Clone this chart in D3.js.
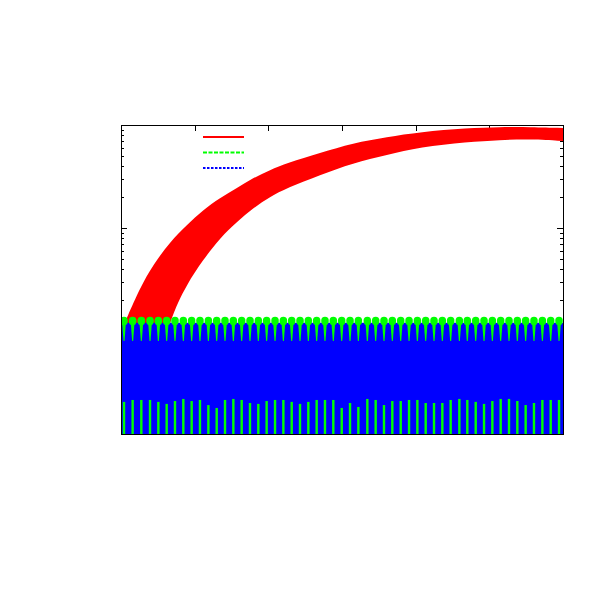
<!DOCTYPE html>
<html>
<head>
<meta charset="utf-8">
<script src="https://cdn.jsdelivr.net/npm/d3@7"></script>
<style>
	body { margin: 0; background: #fff; }
	svg { display: block; }
</style>
</head>
<body>
<div id="chart"></div>
<script>
// x axis ticks (no labels were printed in the original)
var xTicks = [0, 100, 200, 300, 400, 500, 600];

// red series: dense oscillation, kept as its upper / lower envelope
var redX    = [0, 8.1, 25.8, 43.4, 66.5, 89.6, 111.3, 134.4, 157.5, 179.2, 202.3, 225.3, 270.1, 314.9, 361.1, 405.9, 469.7, 514.5, 555.2, 600];
var redHigh = [0.102, 0.134, 0.262, 0.437, 0.731, 1.069, 1.496, 1.956, 2.445, 3.058, 3.657, 4.277, 5.349, 6.688, 7.647, 8.551, 9.352, 9.563, 9.563, 9.352];
var redLow  = [0.01, 0.01, 0.01, 0.03, 0.134, 0.286, 0.489, 0.800, 1.144, 1.564, 2.000, 2.445, 3.271, 4.277, 5.113, 6.115, 6.839, 7.152, 7.314, 6.993];

// blue series: fills from the bottom to its top envelope
var blueX    = [0, 600];
var blueHigh = [0.12, 0.12];

// green series: peaks visible above the blue, and spikes at the bottom
var greenX = [4.1, 15.8, 27.6, 39.4, 50.7, 62.0, 73.3, 84.6, 95.9, 107.2, 118.6, 129.9, 141.2, 152.5, 163.8, 175.1, 186.4, 197.7,
	209.1, 220.4, 231.7, 243.0, 254.3, 265.6, 276.9, 288.2, 299.6, 310.9, 322.2, 334.4, 345.7, 357.0, 368.3, 379.7, 391.0, 402.3,
	413.6, 424.9, 436.2, 447.5, 459.3, 470.1, 481.5, 492.8, 504.1, 515.4, 526.7, 538.0, 549.3, 560.6, 572.0, 583.3, 594.6];
var greenPeak = 0.125;
var greenDip = 0.08;
var greenSpike = [0.0205, 0.0214, 0.0214, 0.0214, 0.0205, 0.0196, 0.0209, 0.0219, 0.0209, 0.0214, 0.0191, 0.0179, 0.0214, 0.0219,
	0.0214, 0.0200, 0.0196, 0.0209, 0.0214, 0.0214, 0.0205, 0.0196, 0.0205, 0.0214, 0.0214, 0.0214, 0.0179, 0.0200, 0.0183, 0.0219,
	0.0214, 0.0191, 0.0209, 0.0209, 0.0214, 0.0214, 0.0200, 0.0200, 0.0200, 0.0214, 0.0219, 0.0214, 0.0205, 0.0196, 0.0209, 0.0219,
	0.0219, 0.0209, 0.0191, 0.0200, 0.0214, 0.0214, 0.0214];

var yDomain = [0.01, 10];

var width = 591, height = 591;
var margin = {top: 125, right: 28, bottom: 157, left: 121};
var plotW = width - margin.left - margin.right;
var plotH = height - margin.top - margin.bottom;

var svg = d3.select("#chart").append("svg")
	.attr("width", width)
	.attr("height", height);

var x = d3.scaleLinear().domain([0, 600]).range([0, plotW]);
var y = d3.scaleLog().domain(yDomain).range([plotH, 0]);

var g = svg.append("g")
	.attr("transform", "translate(" + margin.left + "," + margin.top + ")");

g.append("clipPath").attr("id", "clip")
	.append("rect").attr("width", plotW).attr("height", plotH);

// ticks sit behind the data, as in the original
var yMajor = y.ticks().filter(function(d) { return Math.abs(Math.log10(d) % 1) < 1e-6; });
var yMinor = y.ticks().filter(function(d) { return yMajor.indexOf(d) < 0; });

var ticks = g.append("g").attr("stroke", "#000").attr("stroke-width", 1).attr("shape-rendering", "crispEdges");

xTicks.forEach(function(t) {
	var px = Math.round(x(t)) + 0.5;
	ticks.append("line").attr("x1", px).attr("x2", px).attr("y1", 0).attr("y2", 6);
	ticks.append("line").attr("x1", px).attr("x2", px).attr("y1", plotH).attr("y2", plotH - 6);
});

function yTick(v, len) {
	var py = Math.round(y(v)) + 0.5;
	ticks.append("line").attr("x1", 0).attr("x2", len).attr("y1", py).attr("y2", py);
	ticks.append("line").attr("x1", plotW).attr("x2", plotW - len).attr("y1", py).attr("y2", py);
}
yMajor.forEach(function(v) { yTick(v, 6); });
yMinor.forEach(function(v) { yTick(v, 3); });

var data = g.append("g").attr("clip-path", "url(#clip)");

var redData = redX.map(function(d, i) { return {x: d, hi: redHigh[i], lo: redLow[i]}; });

var redArea = d3.area()
	.curve(d3.curveBasis)
	.x(function(d) { return x(d.x); })
	.y0(function(d) { return y(d.lo); })
	.y1(function(d) { return y(d.hi); });

data.append("path")
	.datum(redData)
	.attr("d", redArea)
	.style("fill", "#ff0000");

var blueData = blueX.map(function(d, i) { return {x: d, hi: blueHigh[i]}; });

var blueArea = d3.area()
	.x(function(d) { return x(d.x); })
	.y0(plotH)
	.y1(function(d) { return y(d.hi); });

data.append("path")
	.datum(blueData)
	.attr("d", blueArea)
	.style("fill", "#0000ff");

// green peaks poking above the blue, with short streaks hanging below them
var greenData = greenX.map(function(d, i) { return {x: d, spike: greenSpike[i]}; });

data.selectAll(".dip")
	.data(greenData)
	.enter().append("path")
	.attr("class", "dip")
	.attr("d", function(d) {
		var cx = x(d.x), top = y(greenPeak), bot = y(greenDip);
		return "M" + (cx - 2) + "," + top + "L" + (cx + 2) + "," + top + "L" + (cx + 0.5) + "," + bot + "L" + (cx - 0.5) + "," + bot + "Z";
	})
	.style("fill", "#00ff00");

data.selectAll(".peak")
	.data(greenData)
	.enter().append("ellipse")
	.attr("class", "peak")
	.attr("cx", function(d) { return x(d.x); })
	.attr("cy", function(d) { return y(greenPeak); })
	.attr("rx", 3.8)
	.attr("ry", 4.2)
	.style("fill", "#00ff00");

data.selectAll(".spike")
	.data(greenData)
	.enter().append("rect")
	.attr("class", "spike")
	.attr("x", function(d) { return x(d.x) - 1.2; })
	.attr("y", function(d) { return y(d.spike); })
	.attr("width", 2.4)
	.attr("height", function(d) { return plotH - y(d.spike); })
	.style("fill", "#00ff00");

// frame
g.append("rect")
	.attr("x", 0.5).attr("y", 0.5)
	.attr("width", plotW).attr("height", plotH)
	.attr("shape-rendering", "crispEdges")
	.style("fill", "none")
	.style("stroke", "#000")
	.style("stroke-width", 1);

// legend samples (the key had no text)
var legend = [
	{color: "#ff0000", dash: null},
	{color: "#00ff00", dash: "4,1.5"},
	{color: "#0000ff", dash: "2.5,1.5"}
];

svg.append("g").selectAll("line")
	.data(legend)
	.enter().append("line")
	.attr("x1", 203).attr("x2", 244)
	.attr("y1", function(d, i) { return 137 + i * 15.5; })
	.attr("y2", function(d, i) { return 137 + i * 15.5; })
	.style("stroke", function(d) { return d.color; })
	.style("stroke-width", 2)
	.style("stroke-dasharray", function(d) { return d.dash; });
</script>
</body>
</html>
